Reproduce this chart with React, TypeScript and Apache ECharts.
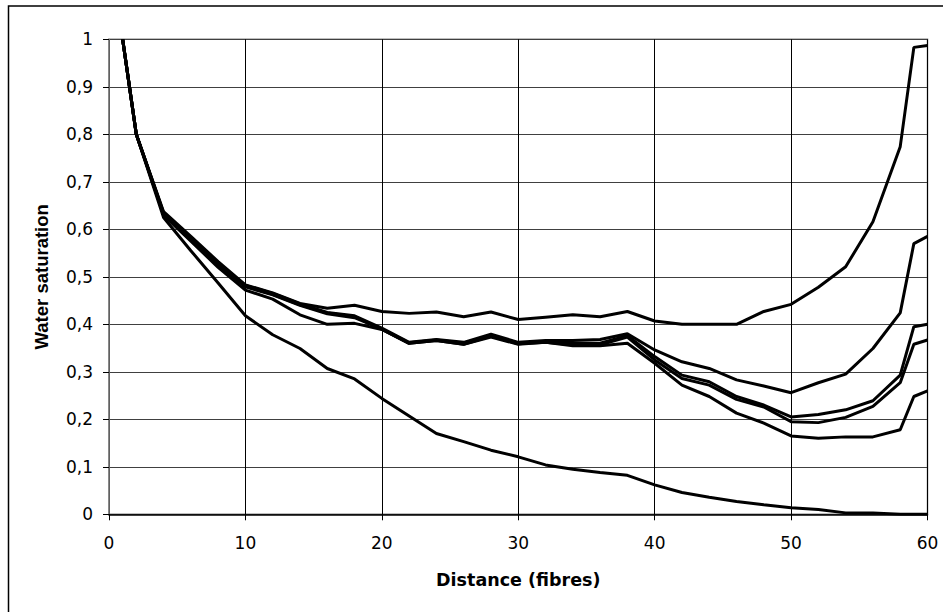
import React, { useEffect, useRef } from "react";
import * as echarts from "echarts";

const distance = [1, 2, 4, 6, 8, 10, 12, 14, 16, 18, 20, 22, 24, 26, 28, 30, 32, 34, 36, 38, 40, 42, 44, 46, 48, 50, 52, 54, 56, 58, 59, 60];

const seriesA = [1, 0.8, 0.637, 0.585, 0.532, 0.483, 0.466, 0.444, 0.434, 0.44, 0.427, 0.423, 0.426, 0.416, 0.426, 0.41, 0.415, 0.42, 0.416, 0.427, 0.407, 0.4, 0.4, 0.4, 0.427, 0.442, 0.478, 0.521, 0.616, 0.774, 0.983, 0.987];
const seriesB = [1, 0.8, 0.635, 0.582, 0.528, 0.482, 0.465, 0.443, 0.425, 0.418, 0.392, 0.362, 0.368, 0.362, 0.379, 0.362, 0.366, 0.366, 0.368, 0.38, 0.346, 0.321, 0.307, 0.283, 0.27, 0.256, 0.277, 0.295, 0.349, 0.424, 0.57, 0.585];
const seriesC = [1, 0.8, 0.633, 0.58, 0.527, 0.48, 0.463, 0.441, 0.424, 0.416, 0.39, 0.361, 0.367, 0.36, 0.377, 0.36, 0.364, 0.36, 0.36, 0.376, 0.332, 0.293, 0.279, 0.248, 0.23, 0.205, 0.21, 0.22, 0.239, 0.293, 0.395, 0.4];
const seriesD = [1, 0.8, 0.632, 0.578, 0.525, 0.479, 0.462, 0.44, 0.422, 0.414, 0.39, 0.36, 0.366, 0.358, 0.375, 0.359, 0.362, 0.357, 0.357, 0.373, 0.325, 0.286, 0.272, 0.242, 0.226, 0.195, 0.193, 0.204, 0.227, 0.277, 0.358, 0.367];
const seriesE = [1, 0.8, 0.63, 0.575, 0.52, 0.472, 0.453, 0.42, 0.4, 0.402, 0.389, 0.36, 0.366, 0.358, 0.373, 0.358, 0.362, 0.355, 0.355, 0.36, 0.318, 0.272, 0.248, 0.213, 0.192, 0.165, 0.16, 0.163, 0.163, 0.178, 0.248, 0.26];
const seriesF = [1, 0.8, 0.625, 0.555, 0.487, 0.418, 0.378, 0.349, 0.307, 0.285, 0.244, 0.207, 0.17, 0.153, 0.135, 0.121, 0.104, 0.095, 0.088, 0.082, 0.062, 0.046, 0.036, 0.027, 0.02, 0.014, 0.01, 0.003, 0.003, 0, 0, 0];

const allSeries = [seriesA, seriesB, seriesC, seriesD, seriesE, seriesF];

const xTitle = "Distance (fibres)";
const yTitle = "Water saturation";

export default function App() {
  const ref = useRef<HTMLDivElement>(null);
  useEffect(() => {
    if (!ref.current) return;
    const chart = echarts.init(ref.current, null, { renderer: "svg" });
    chart.setOption({
      animation: false,
      backgroundColor: "#ffffff",
      grid: {
        left: 109,
        right: 15.5,
        top: 39.3,
        bottom: 97.7,
        show: true,
        borderColor: "#808080",
        borderWidth: 1.5,
        backgroundColor: "transparent",
      },
      graphic: [
        {
          type: "rect",
          shape: { x: 8.5, y: 6, width: 2000, height: 2000 },
          style: { fill: "none", stroke: "#000", lineWidth: 1.5 },
          silent: true,
        },
      ],
      xAxis: {
        type: "value",
        min: 0,
        max: 60,
        interval: 10,
        name: xTitle,
        nameLocation: "middle",
        nameGap: 57,
        nameTextStyle: { fontFamily: "DejaVu Sans", fontWeight: "bold", fontSize: 17.5, color: "#000" },
        axisLine: { show: true, lineStyle: { color: "#000", width: 1.5 } },
        axisTick: { show: true, inside: false, length: 6, lineStyle: { color: "#000" } },
        axisLabel: { fontFamily: "DejaVu Sans", fontSize: 17, color: "#000", margin: 20 },
        splitLine: { show: true, lineStyle: { color: "#000", width: 1 } },
      },
      yAxis: {
        type: "value",
        min: 0,
        max: 1,
        interval: 0.1,
        name: yTitle,
        nameLocation: "middle",
        nameGap: 58,
        nameRotate: 90,
        nameTextStyle: { fontFamily: "Liberation Sans", fontWeight: "bold", fontSize: 18.5, color: "#000" },
        axisLine: { show: true, lineStyle: { color: "#808080", width: 1.5 } },
        axisTick: { show: true, inside: false, length: 6, lineStyle: { color: "#000" } },
        axisLabel: {
          fontFamily: "DejaVu Sans",
          fontSize: 17,
          color: "#000",
          margin: 16,
          formatter: (v: number) => String(Math.round(v * 10) / 10).replace(".", ","),
        },
        splitLine: { show: true, lineStyle: { color: "#404040", width: 1.2 } },
      },
      series: allSeries.map((vals, i) => ({
        type: "line",
        name: "s" + i,
        data: distance.map((d, j) => [d, vals[j]]),
        showSymbol: false,
        symbol: "none",
        lineStyle: { color: "#000", width: 3 },
        clip: true,
      })),
    });
    return () => chart.dispose();
  }, []);
  return (
    <div
      ref={ref}
      style={{ position: "absolute", left: 0, top: 0, width: 943, height: 612 }}
    />
  );
}
